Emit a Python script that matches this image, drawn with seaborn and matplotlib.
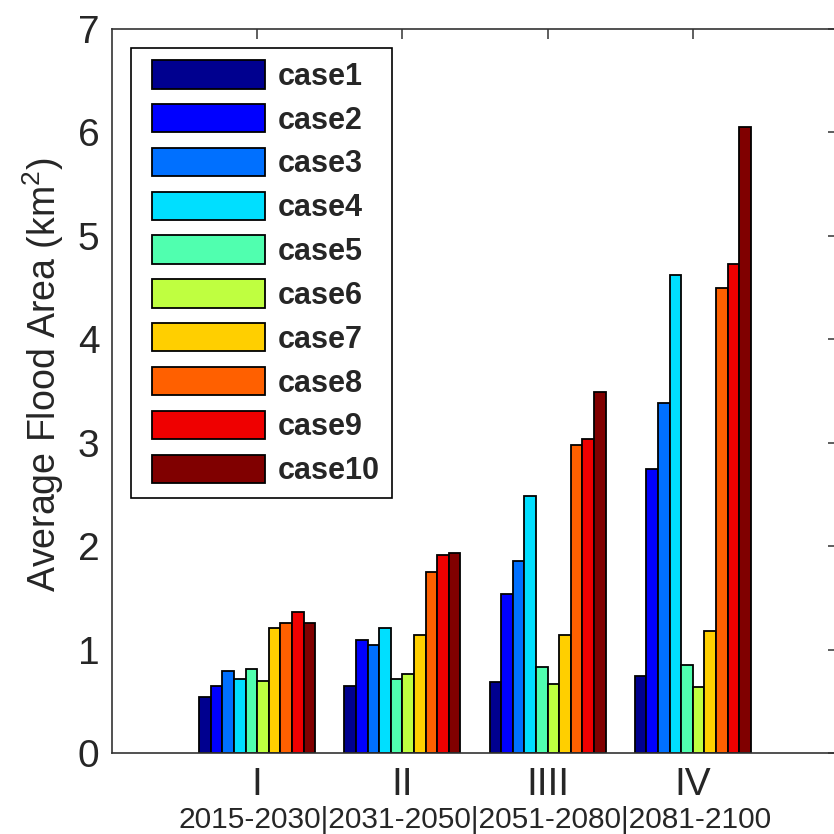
import numpy as np
import pandas as pd
import matplotlib.pyplot as plt
import seaborn as sns
from matplotlib.patches import Patch, Rectangle
from matplotlib.legend_handler import HandlerPatch

# ── data ─────────────────────────────────────────────────────────────────────
periods = ["I", "II", "IIII", "IV"]
cases = ["case1", "case2", "case3", "case4", "case5",
         "case6", "case7", "case8", "case9", "case10"]
year_ranges = ["2015-2030", "2031-2050", "2051-2080", "2081-2100"]

# average flood area (km2), one value per case
area_I    = [0.54, 0.65, 0.79, 0.72, 0.81, 0.70, 1.21, 1.26, 1.36, 1.26]
area_II   = [0.65, 1.09, 1.04, 1.21, 0.72, 0.76, 1.14, 1.75, 1.91, 1.93]
area_IIII = [0.69, 1.54, 1.86, 2.48, 0.83, 0.67, 1.14, 2.98, 3.04, 3.49]
area_IV   = [0.74, 2.75, 3.38, 4.62, 0.85, 0.64, 1.18, 4.50, 4.73, 6.05]

df = pd.DataFrame({
    "period": np.repeat(periods, len(cases)),
    "case"  : cases * len(periods),
    "area"  : area_I + area_II + area_IIII + area_IV,
})

# MATLAB jet(64) picked at 10 evenly spaced rows
colors = ["#00008F", "#0000FF", "#0070FF", "#00DFFF", "#50FFAF",
          "#BFFF40", "#FFCF00", "#FF6000", "#EF0000", "#800000"]

# ── style ────────────────────────────────────────────────────────────────────
sns.set_style("white")
plt.rcParams["font.family"] = ["Liberation Sans", "DejaVu Sans"]
plt.rcParams["mathtext.default"] = "regular"

# ── figure ───────────────────────────────────────────────────────────────────
fig = plt.figure(figsize=(8.34, 8.34), dpi=100)
ax = fig.add_axes([112 / 834, 1 - 753 / 834, 726 / 834, 724 / 834])

sns.barplot(data=df, x="period", y="area", hue="case", order=periods, hue_order=cases,
            palette=colors, saturation=1, width=0.8, gap=0, errorbar=None,
            edgecolor="black", linewidth=1.3, legend=False, ax=ax)

ax.set_xlim(-1, 4)
ax.set_ylim(0, 7)
ax.set_yticks(range(8))
ax.set_xlabel("")
ax.set_ylabel("Average Flood Area (km$^{2}$)", fontsize=27)
ax.yaxis.set_label_coords(-0.063, 0.522)

for s in ax.spines.values():
    s.set_color("#333333"); s.set_linewidth(1.2); s.set_visible(True)
ax.tick_params(direction="in", length=7, width=1.1, color="#333333",
               top=True, right=True, labelsize=28)
ax.tick_params(axis="y", pad=9)
ax.tick_params(axis="x", pad=10, labelsize=28)

# legend boxes sit a little in from the frame's left edge
def inset_box(legend, orig_handle, xdescent, ydescent, width, height, fontsize):
    return Rectangle((-xdescent + 6, -ydescent), width - 6, height)

handles = [Patch(facecolor=c, edgecolor="black", linewidth=1.3) for c in colors]
leg = ax.legend(handles, cases, loc="upper left", bbox_to_anchor=(131 / 834, 1 - 48 / 834),
                bbox_transform=fig.transFigure, borderaxespad=0, fancybox=False,
                framealpha=1, edgecolor="black", prop={"weight": "bold", "size": 22},
                handlelength=4.0, handleheight=1.05, labelspacing=0.40,
                handletextpad=0.39, borderpad=0.40,
                handler_map={Patch: HandlerPatch(patch_func=inset_box)})
leg.get_frame().set_linewidth(1.2)

fig.text(475 / 834, 1 - 828 / 834, "|".join(year_ranges), ha="center", va="baseline", fontsize=21.5)

plt.savefig("out.png", dpi=100)
